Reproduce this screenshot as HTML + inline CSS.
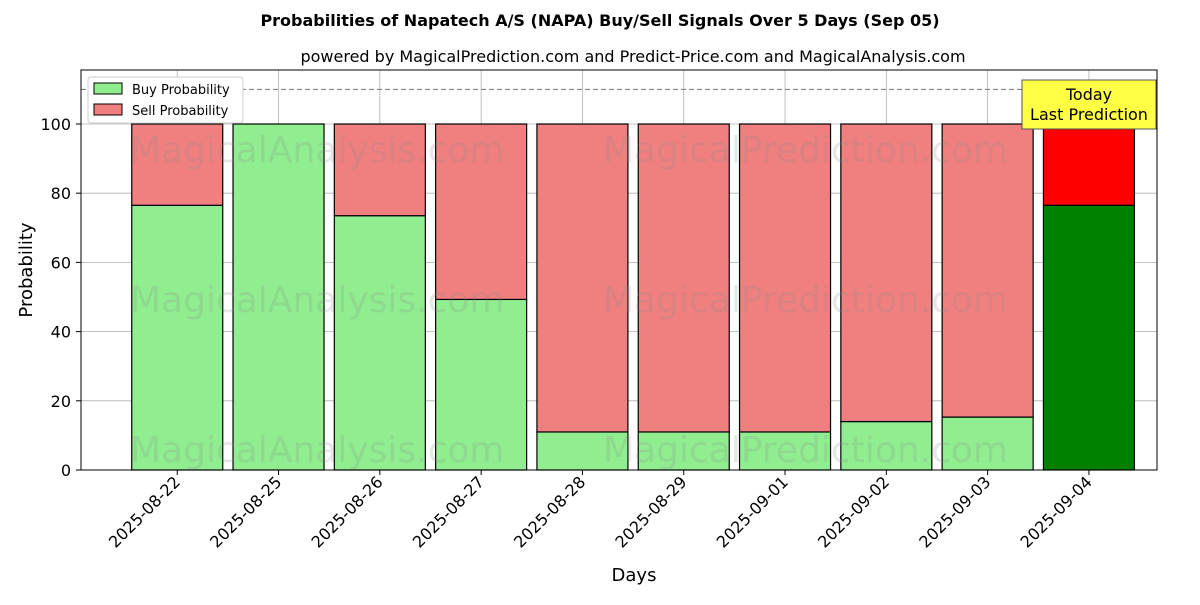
<!DOCTYPE html>
<html><head><meta charset="utf-8"><style>
body{margin:0;background:#fff;font-family:"Liberation Sans","DejaVu Sans",sans-serif;}
svg text{font-family:"DejaVu Sans","Liberation Sans",sans-serif;}
</style></head><body>
<svg id="chart" width="1200" height="600" viewBox="0 0 1200 600" xmlns="http://www.w3.org/2000/svg">
<rect width="1200" height="600" fill="#fff"/>
<text x="600" y="26" text-anchor="middle" font-size="16" font-weight="bold">Probabilities of Napatech A/S (NAPA) Buy/Sell Signals Over 5 Days (Sep 05)</text>
<text x="633" y="62" text-anchor="middle" font-size="16">powered by MagicalPrediction.com and Predict-Price.com and MagicalAnalysis.com</text>
<g id="grid"></g>
<g id="bars"></g>
<g font-size="36" fill="#888" opacity="0.2">
<text x="130" y="162">MagicalAnalysis.com</text><text x="603" y="162">MagicalPrediction.com</text>
<text x="130" y="312">MagicalAnalysis.com</text><text x="603" y="312">MagicalPrediction.com</text>
<text x="130" y="462">MagicalAnalysis.com</text><text x="603" y="462">MagicalPrediction.com</text>
</g>
<line x1="81" x2="1157" y1="89.4" y2="89.4" stroke="#777" stroke-dasharray="5,3"/>
<rect x="81" y="70" width="1076" height="400" fill="none" stroke="#000"/>
<g id="axes"></g>
<text x="634" y="581" text-anchor="middle" font-size="18">Days</text>
<text transform="translate(32,270) rotate(-90)" text-anchor="middle" font-size="18">Probability</text>
<g>
<rect x="88" y="77" width="155" height="46" fill="#fff" stroke="#ccc" rx="3"/>
<rect x="94" y="83" width="28" height="11" fill="#90ee90" stroke="#000"/>
<text x="132" y="94" font-size="13">Buy Probability</text>
<rect x="94" y="104" width="28" height="11" fill="#f08080" stroke="#000"/>
<text x="132" y="115" font-size="13">Sell Probability</text>
</g>
<g>
<rect x="1022" y="80" width="134" height="49" fill="#ffff44" stroke="#555"/>
<text x="1089" y="100" text-anchor="middle" font-size="16">Today</text>
<text x="1089" y="120" text-anchor="middle" font-size="16">Last Prediction</text>
</g>
</svg>
<script>
const categories=["2025-08-22","2025-08-25","2025-08-26","2025-08-27","2025-08-28","2025-08-29","2025-09-01","2025-09-02","2025-09-03","2025-09-04"];
const buyValues=[76.5,100,73.5,49.3,11,11,11,14,15.3,76.5];
const sellValues=[23.5,0,26.5,50.7,89,89,89,86,84.7,23.5];
const yTicks=[0,20,40,60,80,100];
const NS="http://www.w3.org/2000/svg";
const x=i=>81+(i+0.95)*101.3;
const y=v=>470-v*3.46;
const bw=91;
function mk(tag,attrs,parent){const e=document.createElementNS(NS,tag);for(const k in attrs)e.setAttribute(k,attrs[k]);parent.appendChild(e);return e;}
const grid=document.getElementById('grid'),bars=document.getElementById('bars'),axes=document.getElementById('axes');
yTicks.forEach(t=>{
 const l=mk('line',{x1:81,x2:1157,y1:y(t),y2:y(t),stroke:'#b0b0b0','stroke-width':0.8},grid);
 
 
 mk('line',{x1:76,x2:81,y1:y(t),y2:y(t),stroke:'#000'},axes);
 const tx=mk('text',{x:71,y:y(t)+6,'text-anchor':'end','font-size':16},axes);
 tx.textContent=t;
 
 
});
categories.forEach((c,i)=>{
 const cx=x(i);
 const g=mk('line',{x1:cx,x2:cx,y1:70,y2:470,stroke:'#b0b0b0','stroke-width':0.8},grid);
 
 
 const last=i===categories.length-1;
 const b=mk('rect',{x:cx-bw/2,y:y(buyValues[i]),width:bw,height:y(0)-y(buyValues[i]),fill:last?'#008000':'#90ee90',stroke:'#000','stroke-width':1.2},bars);
 
 
 const s=mk('rect',{x:cx-bw/2,y:y(buyValues[i]+sellValues[i]),width:bw,height:y(buyValues[i])-y(buyValues[i]+sellValues[i]),fill:last?'#ff0000':'#f08080',stroke:'#000','stroke-width':1.2},bars);
 
 
 mk('line',{x1:cx,x2:cx,y1:470,y2:475,stroke:'#000'},axes);
 const t=mk('text',{transform:`translate(${cx+4},${483}) rotate(-45)`,'text-anchor':'end','font-size':16},axes);
 t.textContent=c;
 
 
});
</script>
</body></html>
